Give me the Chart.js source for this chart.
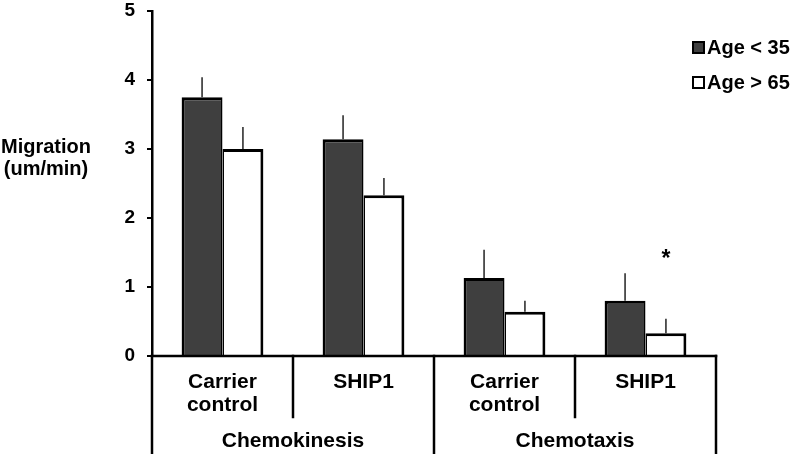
<!DOCTYPE html>
<html>
<head>
<meta charset="utf-8">
<script src="https://cdn.jsdelivr.net/npm/chart.js@4.4.1/dist/chart.umd.min.js"></script>
<style>
  html, body { margin: 0; padding: 0; background: #fff; }
  #wrap { width: 794px; height: 454px; }
</style>
</head>
<body>
<div id="wrap"><canvas id="migChart" width="794" height="454"></canvas></div>
<script>
// data
const categories = [['Carrier', 'control'], ['SHIP1'], ['Carrier', 'control'], ['SHIP1']];
const groupNames = ['Chemokinesis', 'Chemotaxis'];
const groupSpans = [[0, 1], [2, 3]];
const seriesNames = ['Age < 35', 'Age > 65'];
const youngMeans = [3.75, 3.14, 1.13, 0.80];
const youngErr = [0.29, 0.35, 0.41, 0.40];
const oldMeans = [3.00, 2.33, 0.64, 0.33];
const oldErr = [0.32, 0.25, 0.16, 0.21];
const yTicks = [0, 1, 2, 3, 4, 5];
const yTitle = ['Migration', '(um/min)'];
const sigMarks = [{ dataset: 1, index: 3, label: '*', at: 1.5 }];

const FONT = '"Liberation Sans", Arial, sans-serif';
const darkFill = '#3f3f3f';
const errors = [youngErr, oldErr];

const figurePlugin = {
  id: 'figureBits',
  afterDatasetsDraw(chart) {
    const c = chart.ctx;
    const y = chart.scales.y;
    c.save();
    c.strokeStyle = '#000';
    c.lineWidth = 1.3;
    chart.data.datasets.forEach((ds, di) => {
      const meta = chart.getDatasetMeta(di);
      meta.data.forEach((bar, i) => {
        const top = y.getPixelForValue(ds.data[i]);
        const end = y.getPixelForValue(ds.data[i] + errors[di][i]);
        c.beginPath();
        c.moveTo(bar.x, top);
        c.lineTo(bar.x, end);
        c.stroke();
      });
    });

    // significance marks
    c.fillStyle = '#000';
    c.font = 'bold 23px ' + FONT;
    c.textAlign = 'center';
    c.textBaseline = 'alphabetic';
    sigMarks.forEach(m => {
      const bar = chart.getDatasetMeta(m.dataset).data[m.index];
      c.fillText(m.label, bar.x, y.getPixelForValue(m.at) + 13);
    });
    c.restore();
  },
  afterDraw(chart) {
    const c = chart.ctx;
    const x = chart.scales.x;
    const area = chart.chartArea;
    const H = chart.height;
    const half = (x.getPixelForValue(1) - x.getPixelForValue(0)) / 2;
    const base = chart.scales.y.getPixelForValue(0);
    c.save();
    c.strokeStyle = '#000';
    c.lineCap = 'square';

    // x axis line
    c.lineWidth = 2.5;
    c.beginPath();
    c.moveTo(area.left, base);
    c.lineTo(area.right, base);
    c.stroke();

    // y axis continues down through the label table
    c.beginPath();
    c.moveTo(area.left, base);
    c.lineTo(area.left, H);
    c.stroke();

    // separators between categories
    const subBottom = base + 61;
    for (let i = 0; i < categories.length; i++) {
      const edge = x.getPixelForValue(i) + half;
      const isGroupEnd = groupSpans.some(s => s[1] === i);
      c.beginPath();
      c.moveTo(edge, base);
      c.lineTo(edge, isGroupEnd ? H : subBottom);
      c.stroke();
    }

    c.fillStyle = '#000';
    c.textAlign = 'center';
    c.textBaseline = 'middle';
    c.font = 'bold 21px ' + FONT;
    categories.forEach((lines, i) => {
      const cx = x.getPixelForValue(i);
      lines.forEach((t, k) => c.fillText(t, cx, base + 26 + k * 23));
    });
    groupSpans.forEach((s, g) => {
      const cx = (x.getPixelForValue(s[0]) + x.getPixelForValue(s[1])) / 2;
      c.fillText(groupNames[g], cx, base + 85);
    });

    // y title, horizontal at left
    c.font = 'bold 20px ' + FONT;
    const ty = chart.scales.y.getPixelForValue(3);
    yTitle.forEach((t, k) => c.fillText(t, 46, ty - 2 + k * 22));

    // legend
    c.textAlign = 'left';
    seriesNames.forEach((name, i) => {
      const ly = 47 + i * 35;
      c.lineWidth = 2;
      c.fillStyle = chart.data.datasets[i].backgroundColor;
      c.fillRect(693, ly - 5, 11, 11);
      c.strokeRect(693, ly - 5, 11, 11);
      c.fillStyle = '#000';
      c.fillText(name, 707, ly + 1);
    });
    c.restore();
  }
};

new Chart(document.getElementById('migChart'), {
  type: 'bar',
  data: {
    labels: categories.map(l => l.join(' ')),
    datasets: [
      {
        label: seriesNames[0],
        data: youngMeans,
        backgroundColor: darkFill,
        borderColor: '#000',
        borderWidth: { top: 3, left: 3, right: 1.5, bottom: 0 },
        borderSkipped: false
      },
      {
        label: seriesNames[1],
        data: oldMeans,
        backgroundColor: '#ffffff',
        borderColor: '#000',
        borderWidth: { top: 3, left: 1.5, right: 3, bottom: 0 },
        borderSkipped: false
      }
    ]
  },
  options: {
    responsive: false,
    animation: false,
    devicePixelRatio: 1,
    layout: { padding: { top: 11, right: 78, bottom: 98, left: 0 } },
    plugins: { legend: { display: false }, tooltip: { enabled: false } },
    datasets: { bar: { categoryPercentage: 0.58, barPercentage: 1 } },
    scales: {
      x: { display: false, offset: true },
      y: {
        min: 0,
        max: 5,
        afterBuildTicks: s => { s.ticks = yTicks.map(v => ({ value: v })); },
        afterFit: s => { s.width = 152; s.paddingTop = 0; s.paddingBottom = 0; },
        ticks: { color: '#000', font: { family: FONT, size: 19, weight: 'bold' }, padding: 12 },
        grid: { drawOnChartArea: false, drawTicks: true, tickLength: 5, color: '#000', lineWidth: 2 },
        border: { display: true, color: '#000', width: 2.5 }
      }
    }
  },
  plugins: [figurePlugin]
});
</script>
</body>
</html>
